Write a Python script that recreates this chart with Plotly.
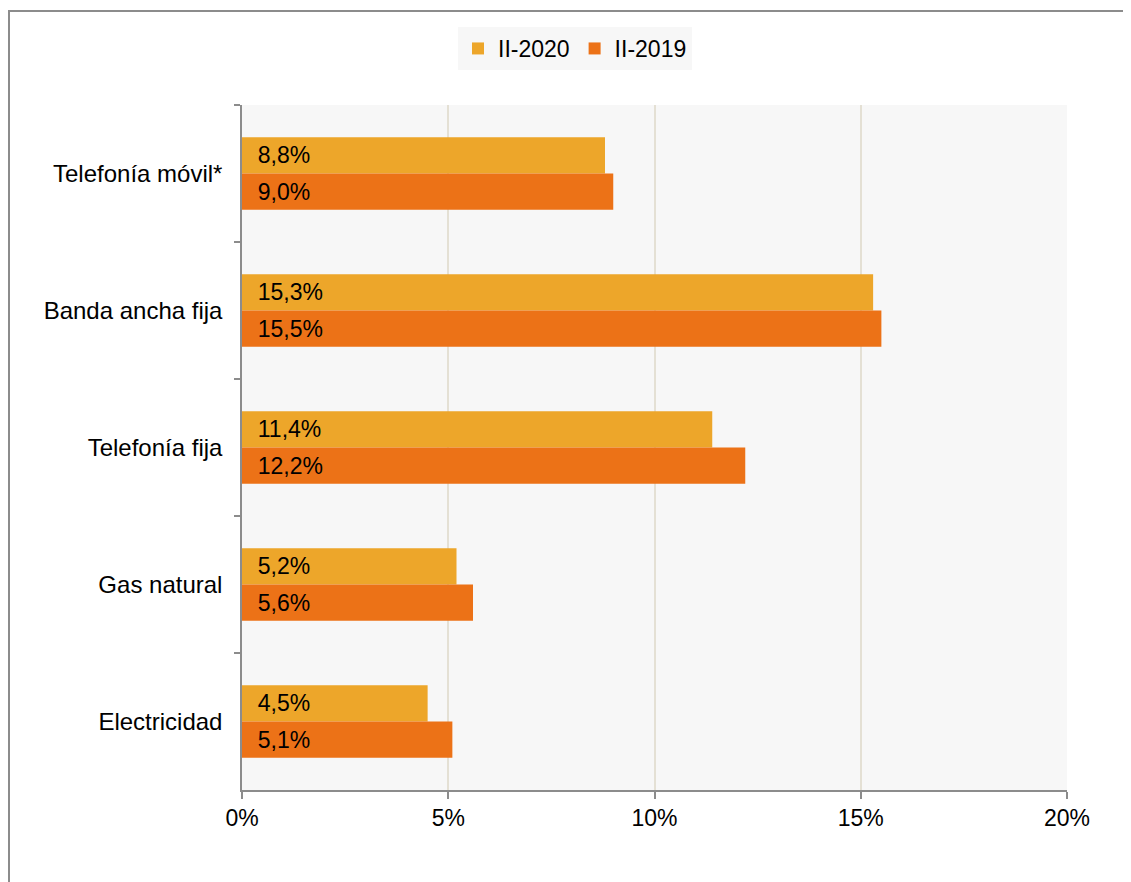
import plotly.graph_objects as go

categories = ["Telefonía móvil*", "Banda ancha fija", "Telefonía fija", "Gas natural", "Electricidad"]
series_names = ["II-2020", "II-2019"]
values_2020 = [8.8, 15.3, 11.4, 5.2, 4.5]
values_2019 = [9.0, 15.5, 12.2, 5.6, 5.1]
x_ticks = [0, 5, 10, 15, 20]
x_tick_labels = ["0%", "5%", "10%", "15%", "20%"]
colors = ["#EDA62A", "#EC7217"]

FONT = "Liberation Sans, Arial, sans-serif"
FS = 23

# page offset: the html body adds ~8px margin
L, R, T, B = 234, 72, 97, 100
PW = 1131 - L - R
PH = 882 - T - B


def labels(vals):
    return ["\u00a0\u00a0" + f"{v:.1f}".replace(".", ",") + "%" for v in vals]


fig = go.Figure()
for name, vals, col in zip(series_names, [values_2020, values_2019], colors):
    fig.add_trace(go.Bar(
        y=categories, x=vals, name=name, orientation="h",
        marker=dict(color=col, line=dict(width=0)),
        text=labels(vals), textposition="inside", insidetextanchor="start",
        textfont=dict(color="black", size=FS, family=FONT),
        insidetextfont=dict(color="black", size=FS, family=FONT),
        hoverinfo="skip",
    ))

fig.update_layout(
    width=1131, height=882,
    barmode="group", bargap=0.47, bargroupgap=0.0,
    uniformtext=dict(mode=False),
    paper_bgcolor="white", plot_bgcolor="#F7F7F7",
    margin=dict(l=L, r=R, t=T, b=B),
    font=dict(family=FONT, size=FS, color="black"),
    legend=dict(
        orientation="h", x=(567 - L) / PW, xanchor="center", y=1 - 19 / 882, yanchor="top",
        yref="container", bgcolor="#F7F7F7", font=dict(size=FS, family=FONT),
        traceorder="normal",
    ),
    xaxis=dict(
        range=[0, 20], tickvals=x_ticks, ticktext=x_tick_labels,
        showgrid=True, gridcolor="#E4E0D4", gridwidth=1.5,
        showline=True, linecolor="#8C8C8C", linewidth=1.5,
        ticks="outside", ticklen=7, tickcolor="#8C8C8C", tickwidth=1.5,
        zeroline=False, tickfont=dict(size=FS, family=FONT),
    ),
    yaxis=dict(
        autorange="reversed", tickson="boundaries",
        showline=True, linecolor="#8C8C8C", linewidth=1.5,
        ticks="outside", ticklen=6, tickcolor="#8C8C8C", tickwidth=1.5,
        showgrid=False, ticklabelstandoff=13,
        tickfont=dict(size=24, family=FONT),
    ),
    shapes=[dict(
        type="rect", xref="paper", yref="paper",
        x0=(1 - L) / PW, x1=1.3, y0=-0.3, y1=(T + PH - 3) / PH,
        line=dict(color="#8C8C8C", width=2), fillcolor="rgba(0,0,0,0)", layer="above",
    )],
)

fig.write_html("out.html")
